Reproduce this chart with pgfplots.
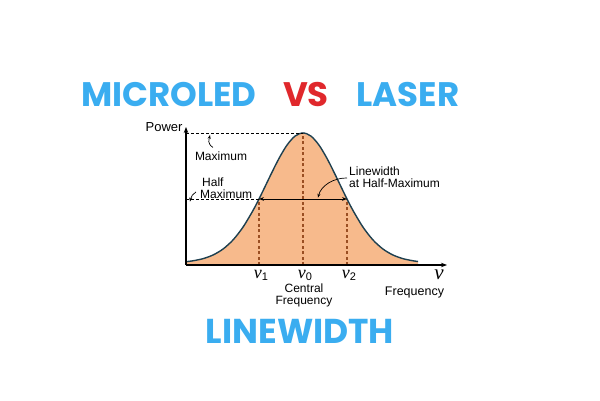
\documentclass[border=0pt]{standalone}
\usepackage{pgfplots}
\pgfplotsset{compat=1.18}
\usepackage{pgfplotstable}
\usetikzlibrary{arrows.meta}
\usepackage{fontspec}
\setmainfont{Liberation Sans}
\newfontfamily\titlefont{Poppins}
\newfontfamily\nufont{Liberation Serif}
\definecolor{tblue}{HTML}{3AADF0}
\definecolor{tred}{HTML}{E0282C}
\definecolor{fillor}{HTML}{F7BA8C}
\definecolor{curvec}{HTML}{1E4050}
\definecolor{vdash}{HTML}{9A4E22}
\newcommand{\nusub}[1]{{\nufont\itshape\fontsize{18}{20}\selectfont ν}\raisebox{-2.5pt}{\fontsize{11}{12}\selectfont #1}}
\pgfplotstableread{
x y
-117 0.0249
-110 0.0319
-100 0.0480
-90 0.0757
-80 0.1208
-70 0.1895
-60 0.2867
-50 0.4128
-44 0.5000
-40 0.5615
-32 0.6872
-24 0.8072
-16 0.9080
-8 0.9760
0 1.0000
8 0.9760
16 0.9080
24 0.8072
32 0.6872
40 0.5615
44 0.5000
50 0.4128
60 0.2867
70 0.1895
80 0.1208
90 0.0757
100 0.0480
110 0.0319
115 0.0266
}\curve
\begin{document}
\begin{tikzpicture}[x=1pt,y=1pt]
\path[use as bounding box, fill=white] (0,0) rectangle (600,400);
\node[font=\titlefont\bfseries\fontsize{34}{38}\selectfont, text=tblue] at (169,305.5) {MICROLED};
\node[font=\titlefont\bfseries\fontsize{34}{38}\selectfont, text=tred] at (306,305.5) {VS};
\node[font=\titlefont\bfseries\fontsize{34}{38}\selectfont, text=tblue] at (408,305.5) {LASER};
\node[font=\titlefont\bfseries\fontsize{34.5}{38}\selectfont, text=tblue] at (300,69) {LINEWIDTH};
\begin{axis}[at={(186pt,135pt)}, anchor=south west, scale only axis,
  width=261pt, height=138pt, xmin=-117, xmax=144, ymin=0, ymax=1.045,
  axis lines=left, ticks=none, clip=false, axis on top,
  axis line style={line width=1.1pt, -{Stealth[length=6pt,width=4.5pt]}}]
\addplot[fill=fillor, draw=none] table {\curve} \closedcycle;
% dashed guides
\draw[vdash, line width=1.3pt, dash pattern=on 3pt off 2.5pt] (axis cs:-44,0) -- (axis cs:-44,0.5);
\draw[vdash, line width=1.3pt, dash pattern=on 3pt off 2.5pt] (axis cs:0,0) -- (axis cs:0,1);
\draw[vdash, line width=1.3pt, dash pattern=on 3pt off 2.5pt] (axis cs:44,0) -- (axis cs:44,0.5);
\addplot[curvec, line width=1.4pt, smooth] table {\curve};
\draw[line width=0.7pt, dash pattern=on 3pt off 2pt] (axis cs:-117,1) -- (axis cs:0,1);
\draw[line width=0.7pt, dash pattern=on 3pt off 2pt] (axis cs:-117,0.5) -- (axis cs:-44,0.5);
\draw[line width=0.9pt, {Stealth[length=5pt]}-{Stealth[length=5pt]}] (axis cs:-44,0.5) -- (axis cs:44,0.5);
% labels
\node[anchor=east, font=\fontsize{13}{15}\selectfont] at (axis cs:-117,1.045) {Power};
\node[font=\fontsize{12}{14}\selectfont] at (axis cs:-82,0.826) {Maximum};
\node[anchor=west, font=\fontsize{12}{14}\selectfont, inner sep=0pt] at (axis cs:-101,0.629) {Half};
\node[anchor=west, font=\fontsize{12}{14}\selectfont, inner sep=0pt] at (axis cs:-103,0.538) {Maximum};
\node[anchor=west, font=\fontsize{12}{14}\selectfont, inner sep=0pt] at (axis cs:46,0.712) {Linewidth};
\node[anchor=west, font=\fontsize{12}{14}\selectfont, inner sep=0pt] at (axis cs:46,0.621) {at Half-Maximum};
\draw[line width=0.7pt, -{Stealth[length=4pt,width=3pt]}] (axis cs:-90,0.89) .. controls (axis cs:-96,0.92) and (axis cs:-94,0.95) .. (axis cs:-93,0.985);
\draw[line width=0.7pt, -{Stealth[length=4pt,width=3pt]}] (axis cs:-107,0.553) .. controls (axis cs:-110,0.54) and (axis cs:-112,0.52) .. (axis cs:-113,0.48);
\draw[line width=0.7pt, -{Stealth[length=4pt,width=3pt]}] (axis cs:44,0.659) .. controls (axis cs:30,0.66) and (axis cs:18,0.6) .. (axis cs:15,0.51);
\node[anchor=base, inner sep=0pt, xshift=2pt] at (axis cs:-44,-0.1) {\nusub{1}};
\node[anchor=base, inner sep=0pt, xshift=2pt] at (axis cs:0,-0.1) {\nusub{0}};
\node[anchor=base, inner sep=0pt, xshift=2pt] at (axis cs:44,-0.1) {\nusub{2}};
\node[anchor=base, inner sep=0pt, font=\nufont\itshape\fontsize{21}{23}\selectfont] at (axis cs:136,-0.11) {ν};
\node[align=center, font=\fontsize{12}{12}\selectfont, inner sep=0pt] at (axis cs:1,-0.228) {Central\\Frequency};
\node[font=\fontsize{12.5}{14}\selectfont, inner sep=0pt] at (axis cs:111.5,-0.205) {Frequency};
\end{axis}
\end{tikzpicture}
\end{document}
